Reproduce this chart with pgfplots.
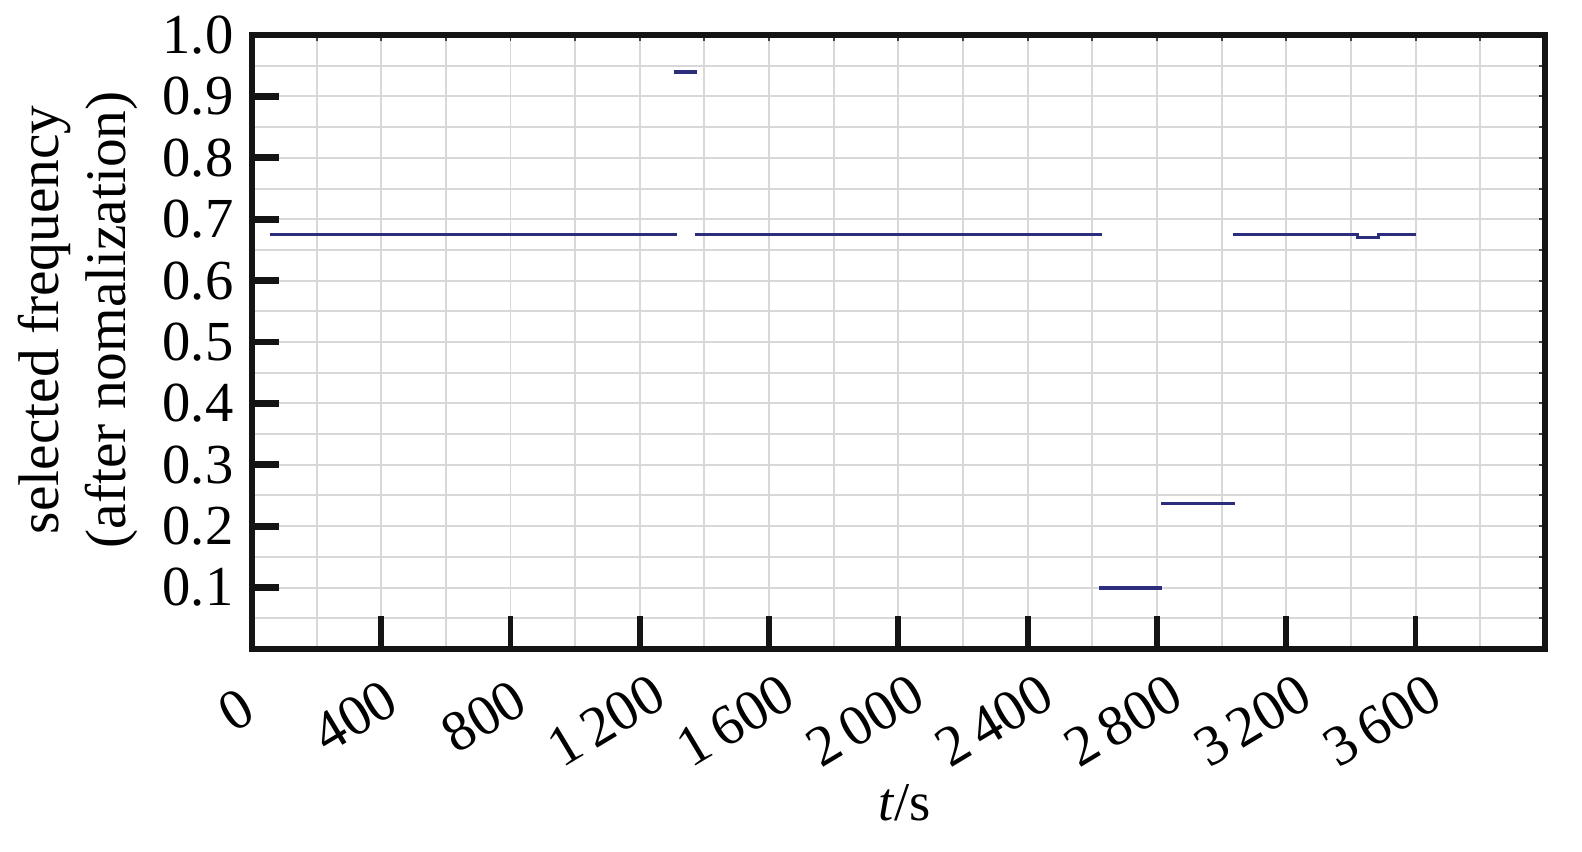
\documentclass[border=0pt]{standalone}
\usepackage{fontspec}
\setmainfont{Liberation Serif}
\usepackage{pgfplots}
\pgfplotsset{compat=1.18}
\definecolor{navy}{RGB}{45,45,125}
\definecolor{gridc}{RGB}{216,216,216}
\newcommand{\pd}[1]{\rule{#1em}{0pt}}
\begin{document}
\begin{tikzpicture}
\pgfplotsset{common/.style={width=326.9pt, height=155.2pt, scale only axis,
  xmin=0, xmax=4000, ymin=0, ymax=1}}
% background: grid and small ticks on top/right
\begin{axis}[common,
  xtick={0,200,400,600,800,1000,1200,1400,1600,1800,2000,2200,2400,2600,2800,3000,3200,3400,3600,3800,4000},
  ytick={0,0.05,0.1,0.15,0.2,0.25,0.3,0.35,0.4,0.45,0.5,0.55,0.6,0.65,0.7,0.75,0.8,0.85,0.9,0.95,1},
  xticklabels={}, yticklabels={},
  grid=major, grid style={gridc, line width=0.5pt},
  tick pos=right, tick align=inside, major tick length=1.5pt,
  tick style={black!75, line width=0.5pt},
  axis line style={draw=none}]
\end{axis}
% main axis
\begin{axis}[common,
  axis line style={line width=1.65pt, black!92},
  tick pos=left, tick align=inside,
  xtick={0,400,800,1200,1600,2000,2400,2800,3200,3600},
  xticklabels={0\pd{0.22},400\pd{0.66},800\pd{0.66},1\,200\pd{0.95},1\,600\pd{0.95},2\,000\pd{0.95},2\,400\pd{0.95},2\,800\pd{0.95},3\,200\pd{0.95},3\,600\pd{0.95}},
  ytick={0.1,0.2,0.3,0.4,0.5,0.6,0.7,0.8,0.9,1.0},
  yticklabels={0.1,0.2,0.3,0.4,0.5,0.6,0.7,0.8,0.9,1.0},
  xtick style={black!92, line width=1.5pt, /pgfplots/major tick length=8.3pt},
  ytick style={black!92, line width=1.7pt, /pgfplots/major tick length=6.8pt},
  xticklabel style={font=\fontsize{14.5}{17}\selectfont, inner sep=0pt, xshift=-2.6pt, yshift=-14.6pt, rotate=31, anchor=center},
  yticklabel style={font=\fontsize{14.3}{17}\selectfont, inner sep=0pt, xshift=-4.5pt, anchor=east},
  xlabel={\textit{t}/s},
  xlabel style={font=\fontsize{13.8}{16}\selectfont, at={(axis description cs:0.505,-0.2803)}, anchor=base},
  ylabel={selected frequency\\(after nomalization)},
  ylabel style={font=\fontsize{14.5}{16.7}\selectfont, align=center, at={(axis description cs:-0.1346,0.536)}, anchor=center},
  ]
\addplot[navy, line width=0.85pt] coordinates {(55,0.675)(1315,0.675)};
\addplot[navy, line width=0.85pt] coordinates {(1305,0.94)(1378,0.94)};
\addplot[navy, line width=0.85pt] coordinates {(1372,0.675)(2630,0.675)};
\addplot[navy, line width=0.85pt] coordinates {(2622,0.099)(2815,0.099)};
\addplot[navy, line width=0.85pt] coordinates {(2812,0.237)(3040,0.237)};
\addplot[navy, line width=0.85pt] coordinates {(3034,0.675)(3420,0.675)(3420,0.670)(3485,0.670)(3485,0.675)(3600,0.675)};
\coordinate (o) at (rel axis cs:0,0);
\end{axis}
\pgfresetboundingbox
\path (o) ++(-63.7pt,-51.1pt) rectangle ++(400pt,215.17pt);
\end{tikzpicture}
\end{document}
